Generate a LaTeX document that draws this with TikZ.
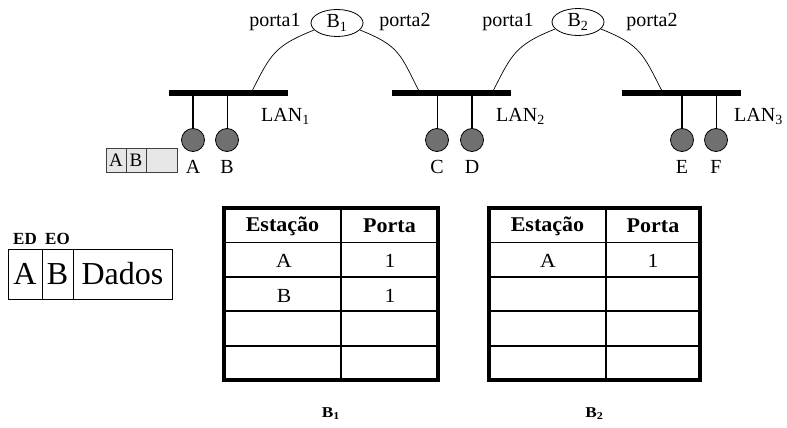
\documentclass[tikz,border=0pt]{standalone}
\usepackage{fontspec}
\setmainfont{Liberation Serif}
\usetikzlibrary{positioning,shapes.geometric}
\definecolor{hostgray}{HTML}{707070}
\definecolor{pktgray}{HTML}{E6E6E6}
\newcommand{\fsz}[1]{\fontsize{#1}{#1}\selectfont}

\begin{document}
\begin{tikzpicture}[x=1pt,y=-1pt,
  bus/.style={fill=black,inner sep=0pt,minimum width=119pt,minimum height=5.5pt},
  station/.style={circle,draw=black,line width=0.8pt,fill=hostgray,inner sep=0pt,minimum size=23pt},
  tag/.style={font=\fsz{20},inner sep=1pt},
  bridge/.style={ellipse,draw,line width=0.8pt,inner sep=0pt,minimum width=52pt,minimum height=27pt,font=\fsz{20}},
  port/.style={font=\fsz{20},inner sep=0pt,anchor=base},
  link/.style={line width=0.7pt},
  cell/.style={draw,line width=1pt,inner sep=0pt,outer sep=0pt,minimum height=50pt,font=\fsz{32},anchor=west},
  pkt/.style={draw=black!75,fill=pktgray,line width=0.8pt,inner sep=0pt,outer sep=0pt,minimum height=24pt,font=\fsz{19},anchor=west},
  tab/.style={font=\fsz{20}\addfontfeature{FakeStretch=1.08}},
  head/.style={font=\fsz{21}\bfseries\addfontfeature{FakeStretch=1.05}}]
\useasboundingbox (0,0) rectangle (787,428);

% the three LAN segments
\node[bus] (lan1) at (228.5,93) {};
\node[bus] (lan2) at (451.5,93) {};
\node[bus] (lan3) at (681,93) {};
\node[tag,anchor=base west] (n1) at (260,121.5) {LAN\textsubscript{1}};
\node[tag,anchor=base west] (n2) at (495,121.5) {LAN\textsubscript{2}};
\node[tag,anchor=base west] (n3) at (733,121.5) {LAN\textsubscript{3}};

% stations hanging from the segments
\foreach \s/\x/\lan/\w in {A/193/lan1/2.6pt,B/227/lan1/1pt,C/437/lan2/1pt,
                           D/472/lan2/2.6pt,E/682/lan3/2.6pt,F/716/lan3/1pt}{
  \node[station] (h\s) at (\x,140) {};
  \node[tag,below=7pt of h\s] (t\s) {\s};
  \draw[line width=\w] (h\s.north) -- (h\s.north |- \lan.south);
}

% bridges and their ports
\node[bridge] (b1) at (337,23) {B\textsubscript{1}};
\node[bridge] (b2) at (578,22) {B\textsubscript{2}};
\node[port] (p11) at (275,27) {porta1};
\node[port] (p12) at (405,27) {porta2};
\node[port] (p21) at (508,27) {porta1};
\node[port] (p22) at (652,27) {porta2};
\coordinate (j1) at (252,91);
\coordinate (j2) at (419,91);
\coordinate (j3) at (493,91);
\coordinate (j4) at (662,91);
\draw[link] (b1.197) .. controls +(-40,16) and +(19,-37) .. (j1);
\draw[link] (b1.343) .. controls +(40,16) and +(-19,-37) .. (j2);
\draw[link] (b2.197) .. controls +(-40,16) and +(19,-37) .. (j3);
\draw[link] (b2.343) .. controls +(40,16) and +(-19,-37) .. (j4);

% frame leaving A
\node[pkt,minimum width=20pt] (ka) at (106,160) {A};
\node[pkt,minimum width=20pt,right=0pt of ka] (kb) {B};
\node[pkt,minimum width=31pt,right=0pt of kb] (kd) {};

% frame layout
\node[cell,minimum width=34pt] (fa) at (8,274) {A};
\node[cell,minimum width=31pt,right=0pt of fa] (fb) {B};
\node[cell,minimum width=99pt,right=0pt of fb] (fd) {Dados};
\node[font=\fsz{17}\bfseries,inner sep=1pt,above=3pt of fa] (ed) {ED};
\node[font=\fsz{17}\bfseries,inner sep=1pt,above=3pt of fb] (eo) {EO};

% forwarding tables
\foreach \b/\l/\m/\r in {1/224/341/438,2/489/606/700}{
  \foreach \y in {242.4,276.8,311.2,345.6}
    \draw[line width=1.8pt] (\l,\y) -- (\r,\y);
  \draw[line width=1.8pt] (\m,208) -- (\m,380);
  \draw[line width=3.2pt] (\l,208) rectangle (\r,380);
  \node[head] (e\b) at ({(\l+\m)/2},226) {Estação};
  \node[head] (q\b) at ({(\m+\r)/2},226) {Porta};
  \node[font=\fsz{15}\bfseries\addfontfeature{FakeStretch=1.15}] (c\b) at ({(\l+\r)/2},414) {B\textsubscript{\b}};
}
\node[tab] (s1a) at (284,261) {A};
\node[tab] (s1p) at (390,261) {1};
\node[tab] (s2a) at (284,295.5) {B};
\node[tab] (s2p) at (390,295.5) {1};
\node[tab] (r1a) at (548,261) {A};
\node[tab] (r1p) at (653,261) {1};
\end{tikzpicture}
\end{document}
